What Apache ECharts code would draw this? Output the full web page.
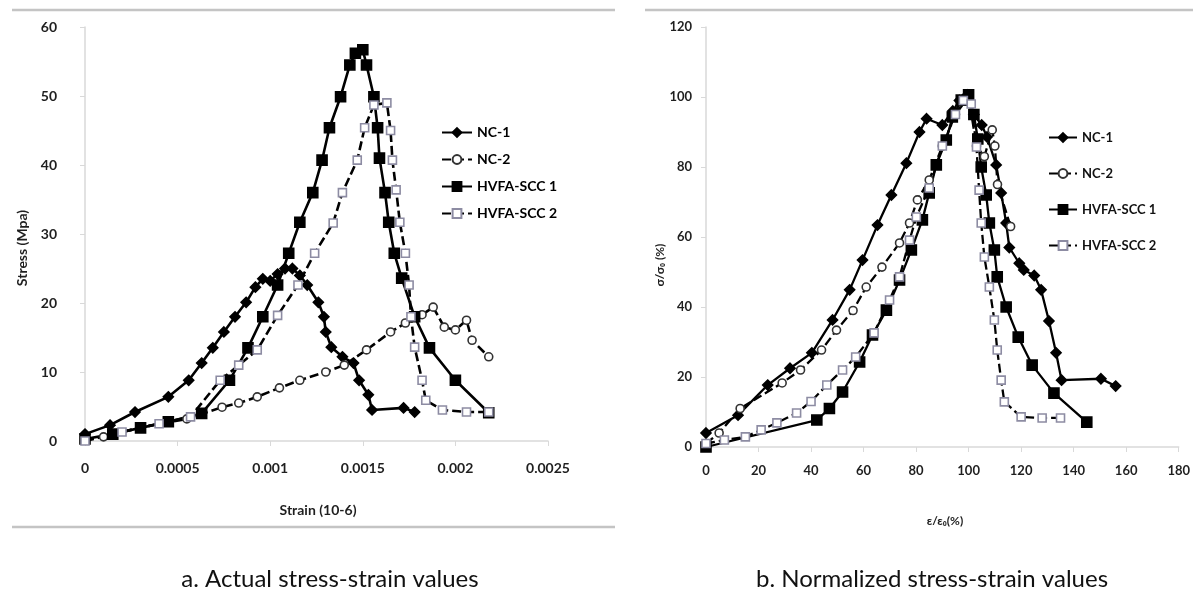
<!DOCTYPE html>
<html>
<head>
<meta charset="utf-8">
<script src="https://cdn.jsdelivr.net/npm/echarts@6/dist/echarts.min.js"></script>
<style>
html,body{margin:0;padding:0;background:#fff;}
#c{width:1193px;height:599px;}
</style>
</head>
<body>
<div id="c"></div>
<script>
// ---------- data: (a) actual stress-strain ----------
const seriesNames = ['NC-1', 'NC-2', 'HVFA-SCC 1', 'HVFA-SCC 2'];
const strainTicks = [0, 0.0005, 0.001, 0.0015, 0.002, 0.0025];
const stressTicks = [0, 10, 20, 30, 40, 50, 60];

const actNC1 = [[0,1.0],[0.000135,2.3],[0.00027,4.2],[0.00045,6.4],[0.00056,8.8],[0.00063,11.3],[0.00069,13.5],[0.00075,15.8],[0.00081,18],[0.00087,20.1],[0.00092,22.3],[0.00096,23.5],[0.001,23.2],[0.00104,24.2],[0.00108,25],[0.00112,25],[0.00116,24],[0.0012,22.6],[0.00126,20.1],[0.00129,18],[0.0013,15.8],[0.00133,13.6],[0.00139,12.2],[0.00145,11.3],[0.00148,8.8],[0.00153,6.7],[0.00155,4.5],[0.00172,4.8],[0.00178,4.2]];
const actNC2 = [[0,0.2],[0.0001,0.6],[0.0003,2.0],[0.00055,3.2],[0.00074,4.9],[0.00083,5.5],[0.00093,6.4],[0.00105,7.7],[0.00116,8.8],[0.0013,10],[0.0014,11],[0.00152,13.2],[0.00165,15.8],[0.00173,17.1],[0.00182,18.3],[0.00188,19.4],[0.00194,16.5],[0.002,16.1],[0.00206,17.5],[0.00209,14.6],[0.00218,12.2]];
const actHV1 = [[0,0.3],[0.00015,1.0],[0.0003,1.9],[0.00045,2.8],[0.00063,4.0],[0.00078,8.8],[0.00088,13.5],[0.00096,18],[0.00104,22.6],[0.0011,27.2],[0.00116,31.7],[0.00123,36],[0.00128,40.7],[0.00132,45.4],[0.00138,49.9],[0.00143,54.5],[0.00146,56.2],[0.0015,56.7],[0.00152,54.5],[0.00156,49.9],[0.00158,45.4],[0.00159,41],[0.00162,36],[0.00164,31.7],[0.00167,27.2],[0.00171,23.6],[0.00178,18],[0.00186,13.5],[0.002,8.8],[0.00218,4.1]];
const actHV2 = [[0,0],[0.0002,1.3],[0.0004,2.5],[0.00057,3.5],[0.00073,8.8],[0.00083,11],[0.00093,13.2],[0.00104,18.2],[0.00115,22.6],[0.00124,27.2],[0.00134,31.6],[0.00139,36],[0.00147,40.7],[0.00151,45.4],[0.00156,48.7],[0.00163,49],[0.00165,45],[0.00166,40.7],[0.00168,36.4],[0.0017,31.7],[0.00173,27.2],[0.00175,22.6],[0.00176,18],[0.00178,13.6],[0.00182,8.8],[0.00184,5.9],[0.00193,4.5],[0.00206,4.2],[0.00218,4.2]];

// ---------- data: (b) normalized ----------
const normXTicks = [0, 20, 40, 60, 80, 100, 120, 140, 160, 180];
const normYTicks = [0, 20, 40, 60, 80, 100, 120];

const normNC1 = [[0,4],[12.2,9.1],[23.5,17.7],[32,22.5],[40.3,26.9],[48.2,36.3],[54.7,44.9],[59.6,53.4],[65.3,63.4],[70.6,72],[76.3,81.1],[81.3,90],[84,93.8],[90,92],[94,96],[96.5,99],[99.5,100.6],[102,95],[105,92],[107,88.6],[110.5,80.6],[112.4,72.6],[114.3,64],[115.5,57],[119.3,52.5],[121,50.6],[125,49],[127.6,44.9],[130.6,36],[133.3,26.9],[135.4,19.1],[150.4,19.5],[156,17.4]];
const normNC2 = [[0,1],[5,4],[13,11],[29,18.3],[36,22],[44,27.7],[49.7,33.4],[56,39],[61,45.7],[67,51.4],[73.7,58.3],[77.5,64],[80.5,70.6],[85,76.3],[90,86],[95,95],[100,100],[103,86],[106,83],[109,90.6],[110,86],[111,75],[116,63]];
const normHV1 = [[0,0],[42.2,7.7],[47,11],[52,15.7],[58.5,24.3],[63.4,32],[68.7,39.1],[73.7,47.7],[78.2,56.3],[82.4,64.9],[85,72.6],[87.7,80.6],[91.5,87.7],[93.8,94.3],[97.2,99.1],[100,100.6],[102,95],[103.5,88],[104.8,80],[106.7,72],[107.9,64],[109.8,56.3],[110.9,48.6],[114.3,40],[118.9,31.4],[124.2,23.4],[132.5,15.4],[145,7.1]];
const normHV2 = [[0,1],[7,2],[15,2.9],[21,4.9],[27,6.9],[34.5,9.7],[40,13],[46,17.7],[52,22],[57,25.7],[64,32.6],[69.9,42],[73.7,48.6],[77.5,59.1],[80.1,65.7],[85,74],[90,86],[95,95],[98,99],[101,98],[103,85.7],[104,73.4],[104.8,64],[106,54.3],[107.9,45.7],[109.8,36.3],[110.9,27.7],[112.4,19.1],[113.6,12.9],[120,8.6],[128,8.3],[135,8.3]];

// ---------- styles ----------
const FONT = 'Lato, "Open Sans", sans-serif';
const styles = [
  {symbol:'diamond', size:10, fill:'#000', border:'#000', dash:'solid'},
  {symbol:'circle', size:8, fill:'#fff', border:'#333', dash:[9,4]},
  {symbol:'rect', size:10, fill:'#000', border:'#000', dash:'solid'},
  {symbol:'rect', size:8, fill:'#fff', border:'#8d8ca3', dash:[9,4]}
];

function mkSeries(name, data, idx, st, lw) {
  return {
    type:'line', name:name, data:data,
    xAxisIndex:idx, yAxisIndex:idx,
    symbol:st.symbol, symbolSize:st.size, showAllSymbol:true,
    lineStyle:{color:'#000', width:lw, type:st.dash},
    itemStyle:{color:st.fill, borderColor:st.border, borderWidth:1.6},
    emphasis:{disabled:true}, z: 2
  };
}

const actData = [actNC1, actNC2, actHV1, actHV2];
const normData = [normNC1, normNC2, normHV1, normHV2];
const series = [];
seriesNames.forEach((n,i)=>series.push(mkSeries(n, actData[i], 0, styles[i], 2.6)));
seriesNames.forEach((n,i)=>series.push(mkSeries(n, normData[i], 1, styles[i], 2.3)));

const axisLineGray = {lineStyle:{color:'#d9d9d9', width:1.5}};
const tickGray = {show:true, length:5, lineStyle:{color:'#d9d9d9'}};

const chart = echarts.init(document.getElementById('c'));
chart.setOption({
  animation:false,
  backgroundColor:'#fff',
  grid:[
    {left:85, right:1193-548, top:27, bottom:599-441},
    {left:706, right:1193-1180, top:27, bottom:599-447}
  ],
  xAxis:[
    {type:'value', gridIndex:0, min:strainTicks[0], max:strainTicks[strainTicks.length-1], interval:0.0005,
     axisLine:axisLineGray, axisTick:tickGray, splitLine:{show:false},
     axisLabel:{margin:20, color:'#1f1f1f', fontFamily:FONT, fontWeight:'bold', fontSize:14,
       formatter:v=>String(+v.toFixed(4))}},
    {type:'value', gridIndex:1, min:normXTicks[0], max:normXTicks[normXTicks.length-1], interval:20,
     axisLine:axisLineGray, axisTick:tickGray, splitLine:{show:false},
     axisLabel:{margin:17, color:'#1f1f1f', fontFamily:FONT, fontWeight:'bold', fontSize:13}}
  ],
  yAxis:[
    {type:'value', gridIndex:0, min:stressTicks[0], max:stressTicks[stressTicks.length-1], interval:10,
     axisLine:{show:true, ...axisLineGray}, axisTick:tickGray, splitLine:{show:false},
     axisLabel:{margin:28, color:'#1f1f1f', fontFamily:FONT, fontWeight:'bold', fontSize:14}},
    {type:'value', gridIndex:1, min:normYTicks[0], max:normYTicks[normYTicks.length-1], interval:20,
     axisLine:{show:true, ...axisLineGray}, axisTick:tickGray, splitLine:{show:false},
     axisLabel:{margin:14, color:'#1f1f1f', fontFamily:FONT, fontWeight:'bold', fontSize:13}}
  ],
  legend:[
    {orient:'vertical', left:436, top:119, itemWidth:30, itemHeight:11, itemGap:10,
     selectedMode:false, data:seriesNames,
     textStyle:{color:'#000', fontFamily:FONT, fontWeight:'bold', fontSize:14, lineHeight:17}},
    {orient:'vertical', left:1043, top:124, itemWidth:28, itemHeight:11, itemGap:19,
     selectedMode:false, data:seriesNames,
     textStyle:{color:'#111', fontFamily:FONT, fontWeight:'bold', fontSize:13, lineHeight:17}}
  ],
  graphic:[
    {type:'line', shape:{x1:12,y1:10,x2:615,y2:10}, style:{stroke:'#c4c4c4', lineWidth:2.5}},
    {type:'line', shape:{x1:12,y1:527,x2:615,y2:527}, style:{stroke:'#c4c4c4', lineWidth:2.5}},
    {type:'line', shape:{x1:645,y1:10,x2:1193,y2:10}, style:{stroke:'#c4c4c4', lineWidth:2.5}},
    {type:'text', x:22, y:248, rotation:Math.PI/2,
     style:{text:'Stress (Mpa)', fill:'#1f1f1f', font:'bold 14px '+FONT, align:'center', verticalAlign:'middle'}},
    {type:'text', x:318, y:510,
     style:{text:'Strain (10-6)', fill:'#1f1f1f', font:'bold 14px '+FONT, align:'center', verticalAlign:'middle'}},
    {type:'text', x:660, y:265, rotation:Math.PI/2,
     style:{text:'σ/σ₀ (%)', fill:'#1f1f1f', font:'bold 12px '+FONT, align:'center', verticalAlign:'middle'}},
    {type:'text', x:945, y:521,
     style:{text:'ε/ε₀(%)', fill:'#1f1f1f', font:'bold 12px '+FONT, align:'center', verticalAlign:'middle'}},
    {type:'text', x:330, y:579,
     style:{text:'a. Actual stress-strain values', fill:'#111', font:'24px '+FONT, align:'center', verticalAlign:'middle'}},
    {type:'text', x:932, y:579,
     style:{text:'b. Normalized stress-strain values', fill:'#111', font:'24px '+FONT, align:'center', verticalAlign:'middle'}}
  ],
  series:series
});
</script>
</body>
</html>
